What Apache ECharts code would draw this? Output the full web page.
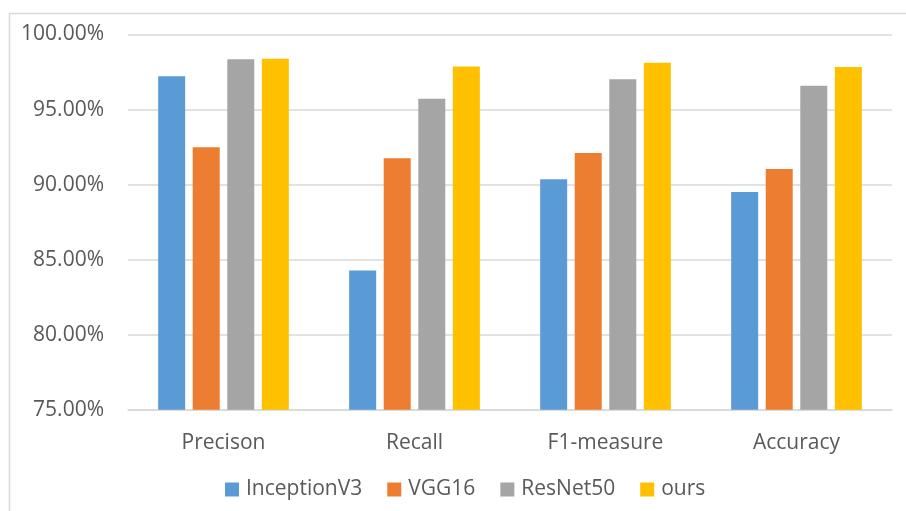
<!DOCTYPE html>
<html>
<head>
<meta charset="utf-8">
<script src="https://cdn.jsdelivr.net/npm/echarts@6/dist/echarts.min.js"></script>
<style>
  html, body { margin: 0; padding: 0; background: #ffffff; }
  #chart { width: 906px; height: 511px; }
</style>
</head>
<body>
<div id="chart"></div>
<script>
// Metrics compared across models (values in percent)
const categories = ['Precison', 'Recall', 'F1-measure', 'Accuracy'];
const inceptionV3 = [97.21, 84.28, 90.35, 89.50];
const vgg16 = [92.48, 91.75, 92.10, 91.03];
const resNet50 = [98.35, 95.72, 97.01, 96.59];
const ours = [98.39, 97.86, 98.12, 97.83];
const yTicks = { min: 75, max: 100, step: 5 };

const seriesDefs = [
  { name: 'InceptionV3', data: inceptionV3, color: '#5b9bd5' },
  { name: 'VGG16', data: vgg16, color: '#ed7d31' },
  { name: 'ResNet50', data: resNet50, color: '#a5a5a5' },
  { name: 'ours', data: ours, color: '#ffc000' }
];

const fontFamily = '"Open Sans", "Noto Sans", sans-serif';
const textColor = '#595959';
const lineColor = '#d9d9d9';

const chart = echarts.init(document.getElementById('chart'));
chart.setOption({
  animation: false,
  backgroundColor: '#ffffff',
  graphic: [{
    type: 'rect',
    left: 7, top: 11,
    shape: { width: 1000, height: 1000 },
    style: { fill: 'none', stroke: lineColor, lineWidth: 1.5 },
    silent: true
  }],
  grid: { left: 128, right: 14, top: 34.5, bottom: 101.3 },
  legend: {
    left: 220,
    top: 474,
    itemWidth: 14,
    itemHeight: 14,
    itemGap: 25,
    icon: 'rect',
    textStyle: { fontFamily, fontSize: 21, color: textColor, padding: [0, 0, 0, 2] },
    data: seriesDefs.map(s => s.name)
  },
  xAxis: {
    type: 'category',
    data: categories,
    axisTick: { show: false },
    axisLine: { lineStyle: { color: lineColor, width: 1.5 } },
    axisLabel: { fontFamily, fontSize: 21, color: textColor, margin: 23 }
  },
  yAxis: {
    type: 'value',
    min: yTicks.min,
    max: yTicks.max,
    interval: yTicks.step,
    axisLine: { show: false },
    axisTick: { show: false },
    splitLine: { lineStyle: { color: lineColor, width: 1.5 } },
    axisLabel: {
      fontFamily, fontSize: 21, color: textColor, margin: 24,
      formatter: v => v.toFixed(2) + '%'
    }
  },
  series: seriesDefs.map(s => ({
    name: s.name,
    type: 'bar',
    data: s.data,
    barWidth: 27,
    barGap: '28%',
    itemStyle: { color: s.color }
  }))
});
</script>
</body>
</html>
